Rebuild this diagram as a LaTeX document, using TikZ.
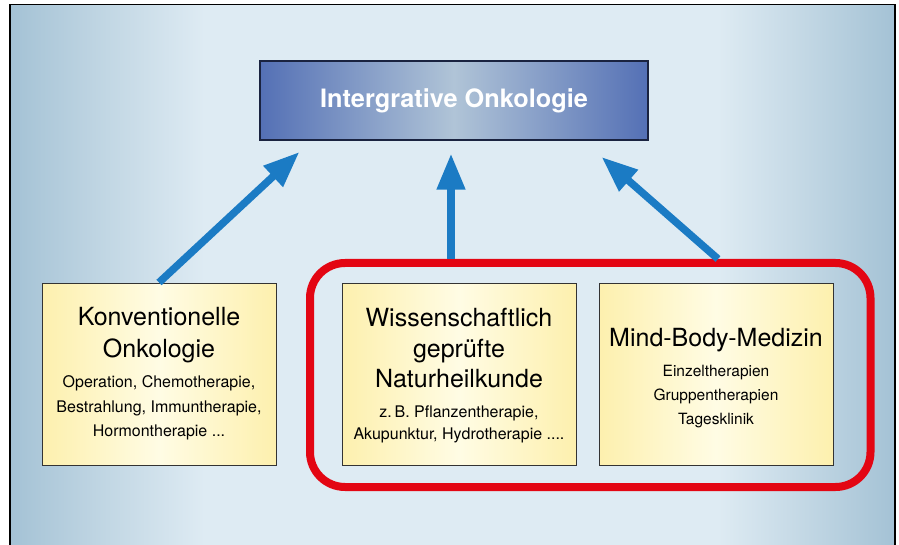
\documentclass[tikz,border=0pt]{standalone}
\usepackage{fontspec}
\setmainfont{TeX Gyre Heros}
\usetikzlibrary{arrows.meta}
\definecolor{bgdark}{HTML}{A4C2D5}
\definecolor{bgmid}{HTML}{C2D7E4}
\definecolor{bglight}{HTML}{DEEBF3}
\definecolor{topedge}{HTML}{5470B5}
\definecolor{topmid}{HTML}{B0C4D7}
\definecolor{topbord}{HTML}{1A2340}
\definecolor{yedge}{HTML}{FDF0AE}
\definecolor{ylight}{HTML}{FFFCE4}
\definecolor{ybord}{HTML}{333333}
\definecolor{arrblue}{HTML}{1B7BC4}
\definecolor{grpred}{HTML}{E30613}
\pgfdeclarehorizontalshading{bgshade}{100bp}{color(0bp)=(bgdark); color(25bp)=(bgdark); color(30.5bp)=(bgmid); color(36bp)=(bglight); color(65bp)=(bglight); color(70bp)=(bgmid); color(75bp)=(bgdark); color(100bp)=(bgdark)}
\tikzset{
  topbox/.style={draw=topbord, line width=1.2pt, minimum width=388pt, minimum height=79pt,
    left color=topedge, right color=topedge, middle color=topmid, text=white,
    font=\bfseries\fontsize{25.3}{29}\selectfont, inner sep=0pt},
  ybox/.style={draw=ybord, line width=1pt, minimum width=234pt, minimum height=182pt,
    left color=yedge, right color=yedge, middle color=ylight, inner sep=0pt},
  ttl/.style={align=center, inner sep=0pt, anchor=north, font=\fontsize{25}{32}\selectfont},
  subtxt/.style={align=center, inner sep=0pt, anchor=north, font=\fontsize{16}{24.5}\selectfont},
  grpbox/.style={draw=grpred, line width=8pt, rounded corners=35pt, minimum width=560.5pt, minimum height=224pt},
  arr/.style={draw=arrblue, line width=7.5pt, -{Triangle[length=36pt, width=27pt]}}
}
\begin{document}
\begin{tikzpicture}[x=1pt,y=-1pt]
\useasboundingbox (0,0) rectangle (899,545);
\fill[shading=bgshade] (10,4.7) rectangle (895,560);
\draw[line width=1.5pt] (10,560) -- (10,4.7) -- (895,4.7) -- (895,560);

\node[topbox] (top) at (454,100.5) {Intergrative Onkologie};

\node[ybox] (kon) at (159,374) {};
\node[ttl] (konT) at (159,307) {Konventionelle\\Onkologie};
\node[subtxt] (konS) at (159,375.5) {Operation, Chemotherapie,\\Bestrahlung, Immuntherapie,\\Hormontherapie ...};

\node[grpbox] (grp) at (590.25,375) {};

\node[ybox] (nat) at (459,374) {};
\node[ttl, font=\fontsize{25}{30.5}\selectfont] (natT) at (459,308) {Wissenschaftlich\\geprüfte\\Naturheilkunde};
\node[subtxt, font=\fontsize{16}{22.6}\selectfont] (natS) at (459,405.2) {z.\,B. Pflanzentherapie,\\Akupunktur, Hydrotherapie ....};

\node[ybox] (mbm) at (716,374) {};
\node[ttl] (mbmT) at (716,328) {Mind-Body-Medizin};
\node[subtxt, font=\fontsize{15.5}{24}\selectfont] (mbmS) at (716,364.8) {Einzeltherapien\\Gruppentherapien\\Tagesklinik};

\draw[arr] (kon.north) -- ([xshift=40pt,yshift=-11.4pt]top.south west);
\draw[arr] ([xshift=-139.25pt]grp.north) -- ([xshift=-3pt,yshift=-13pt]top.south);
\draw[arr] ([xshift=127.75pt]grp.north) -- ([xshift=-47pt,yshift=-16.4pt]top.south east);
\end{tikzpicture}
\end{document}
